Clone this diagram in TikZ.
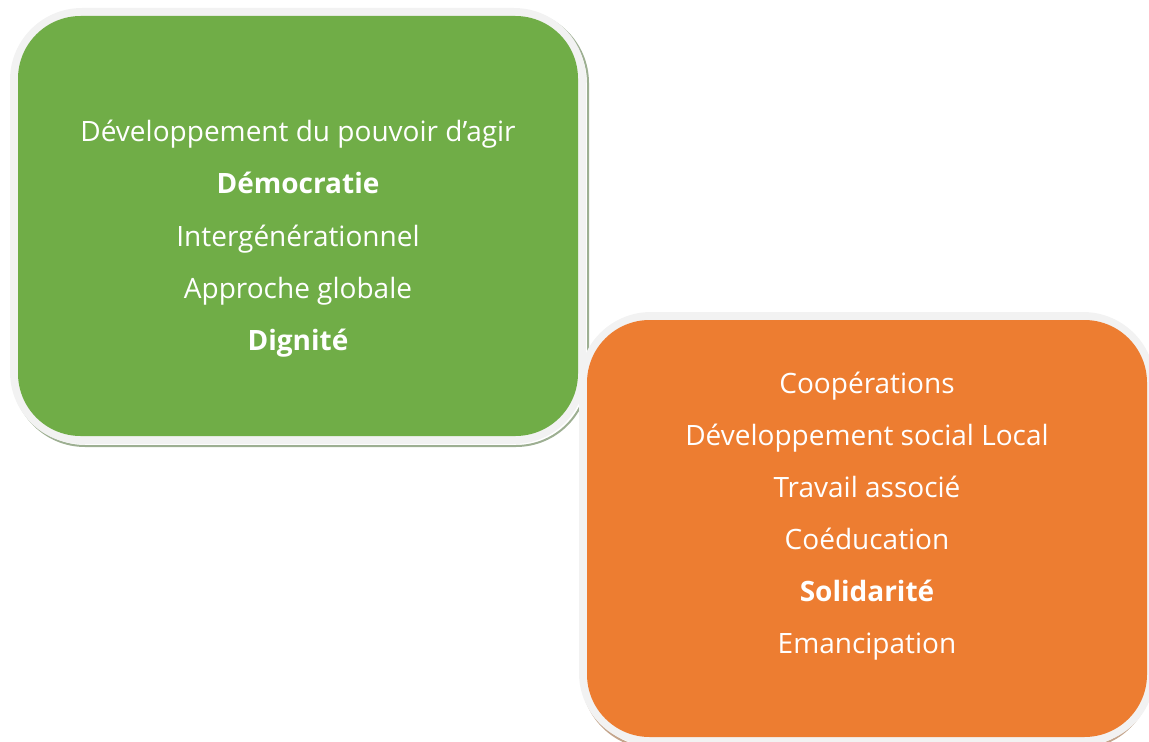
\documentclass[tikz,border=0pt]{standalone}
\usepackage{fontspec}
\setmainfont{Open Sans}
\definecolor{vert}{HTML}{70AD47}
\definecolor{orange}{HTML}{ED7D31}
\definecolor{cadre}{HTML}{F2F2F2}
\definecolor{ombreV}{HTML}{9DAF92}
\definecolor{ombreO}{HTML}{C4A58C}
\tikzset{
  cadrebox/.style={fill=cadre, rounded corners=54pt},
  innerbox/.style={rounded corners=47pt},
  ombre/.style={line width=1.5pt, rounded corners=54pt},
  txt/.style={text=white, font=\fontsize{21}{25}\selectfont, anchor=mid, inner sep=0pt}
}
\begin{document}
\begin{tikzpicture}[x=0.75pt,y=-0.75pt]
\useasboundingbox (0,0) rectangle (1149,742);
% green block
\draw[ombre, draw=ombreV] (13,11) rectangle (588,446);
\path[cadrebox] (10,8) rectangle (586,444);
\path[innerbox, fill=vert] (18,16) rectangle (578,436);
\node[txt] (g1) at (298,138) {Développement du pouvoir d’agir};
\node[txt] (g2) at (298,190) {\textbf{Démocratie}};
\node[txt] (g3) at (298,243) {Intergénérationnel};
\node[txt] (g4) at (298,295) {Approche globale};
\node[txt] (g5) at (298,347) {\textbf{Dignité}};
% orange block
\draw[ombre, draw=ombreO] (582,315) rectangle (1151,748);
\path[cadrebox] (579,312) rectangle (1155,745);
\path[innerbox, fill=orange] (587,320) rectangle (1147,737);
\node[txt] (o1) at (867,390) {Coopérations};
\node[txt] (o2) at (867,442) {Développement social Local};
\node[txt] (o3) at (867,494) {Travail associé};
\node[txt] (o4) at (867,546) {Coéducation};
\node[txt] (o5) at (867,598) {\textbf{Solidarité}};
\node[txt] (o6) at (867,650) {Emancipation};
\end{tikzpicture}
\end{document}
